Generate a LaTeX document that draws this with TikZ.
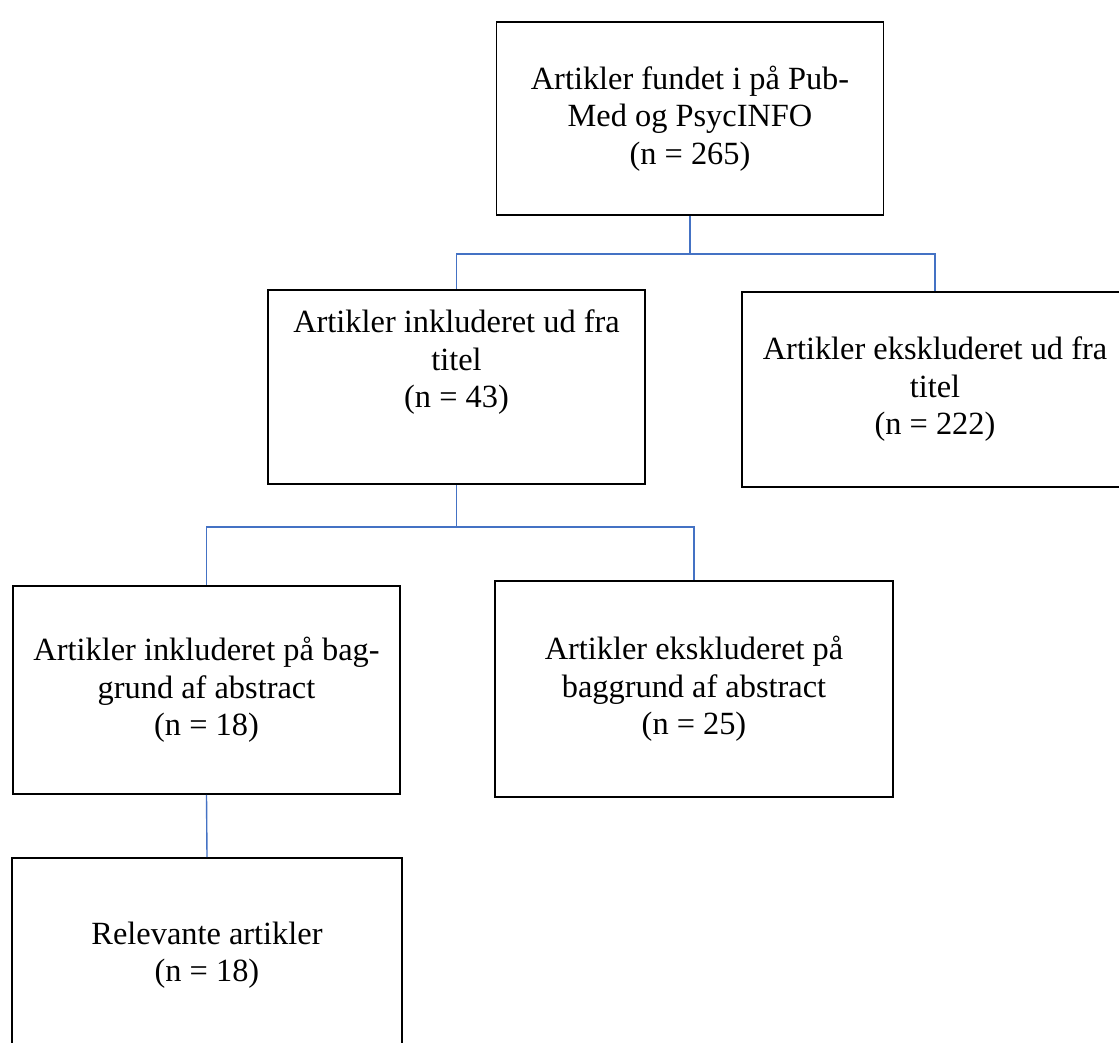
\documentclass[tikz,border=0pt]{standalone}
\usepackage{fontspec}
\setmainfont{Liberation Serif}
\definecolor{linkblue}{RGB}{68,114,196}
\newlength\pxu
\setlength\pxu{0.0152cm}
\begin{document}
\begin{tikzpicture}[x=0.0152cm, y=-0.0152cm,
    box/.style={draw, line width=0.8pt, align=center, inner sep=0pt, font=\fontsize{14}{16.2}\selectfont},
    link/.style={draw=linkblue, line width=0.6pt}]
        \path[use as bounding box, clip] (0,0) rectangle (1119,1043);

        \node[box, minimum width=387\pxu, minimum height=193\pxu] (found) at (690,118.5) {Artikler fundet i på Pub-\\Med og PsycINFO\\(n = 265)};
        \node[box, minimum width=377\pxu, minimum height=194\pxu] (incltitle) at (456.5,387) {Artikler inkluderet ud fra\\titel\\(n = 43)\rule[-56\pxu]{0pt}{56\pxu}};
        \node[box, minimum width=386\pxu, minimum height=195\pxu] (excltitle) at (935,389.5) {Artikler ekskluderet ud fra\\titel\\(n = 222)};
        \node[box, minimum width=387\pxu, minimum height=208\pxu] (inclabs) at (206.5,690) {Artikler inkluderet på bag-\\grund af abstract\\(n = 18)};
        \node[box, minimum width=398\pxu, minimum height=216\pxu] (exclabs) at (694,689) {Artikler ekskluderet på\\baggrund af abstract\\(n = 25)};
        \node[box, minimum width=390\pxu, minimum height=194\pxu] (relevant) at (207,955) {Relevante artikler\\(n = 18)};

        \draw[link] (found.south) -- ++(0,38) coordinate (split1);
        \draw[link] (split1) -| (incltitle.north);
        \draw[link] (split1) -| (excltitle.north);
        \draw[link] (incltitle.south) -- ++(0,42) coordinate (split2);
        \draw[link] (split2) -| (inclabs.north);
        \draw[link] (split2) -| (exclabs.north);
        \draw[link] (inclabs.south) -- (relevant.north);
    \end{tikzpicture}
\end{document}
